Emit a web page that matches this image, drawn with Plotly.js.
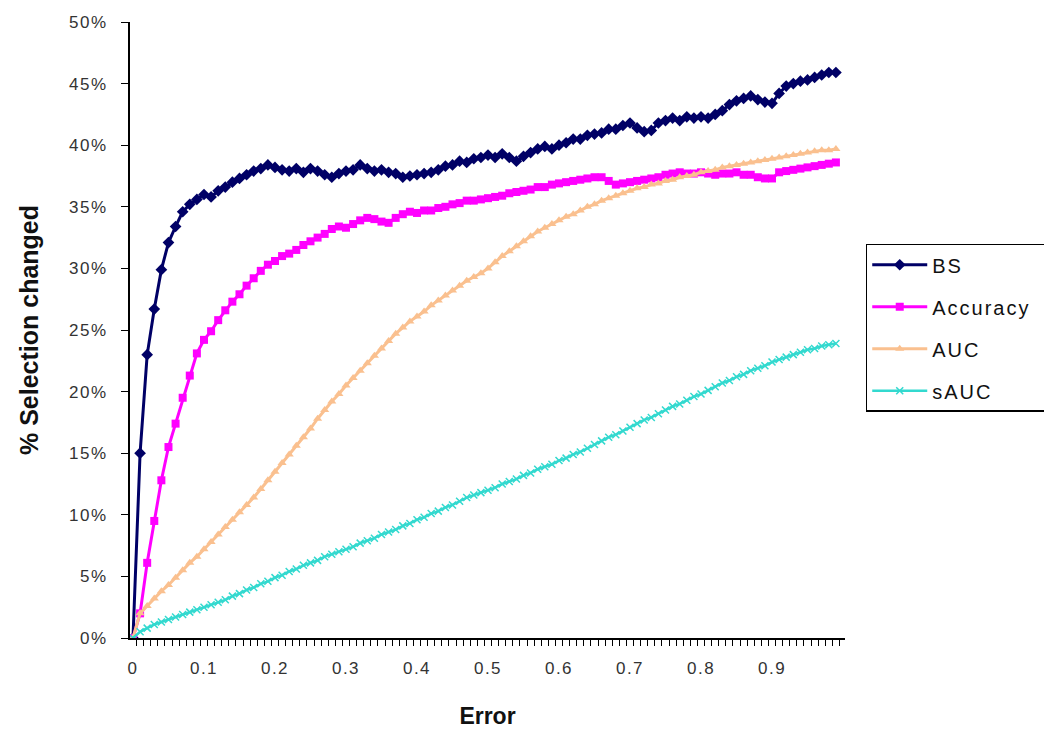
<!DOCTYPE html>
<html>
<head>
<meta charset="utf-8">
<script src="https://cdn.plot.ly/plotly-3.0.1.min.js"></script>
<style>
  html, body { margin: 0; padding: 0; background: #fff; }
  #chart { width: 1044px; height: 735px; }
  #chart .xtick text, #chart .ytick text { letter-spacing: 1.5px; }
  #chart .legendtext { letter-spacing: 2px; }
  #chart .legend rect.bg { width: 240px; }
  #chart clipPath[id^="legend"] rect { width: 240px; }
</style>
</head>
<body>
<div id="chart"></div>
<script>
// Error categories (x axis)
const errorLevels = [
  0.00, 0.01, 0.02, 0.03, 0.04, 0.05, 0.06, 0.07, 0.08, 0.09,
  0.10, 0.11, 0.12, 0.13, 0.14, 0.15, 0.16, 0.17, 0.18, 0.19,
  0.20, 0.21, 0.22, 0.23, 0.24, 0.25, 0.26, 0.27, 0.28, 0.29,
  0.30, 0.31, 0.32, 0.33, 0.34, 0.35, 0.36, 0.37, 0.38, 0.39,
  0.40, 0.41, 0.42, 0.43, 0.44, 0.45, 0.46, 0.47, 0.48, 0.49,
  0.50, 0.51, 0.52, 0.53, 0.54, 0.55, 0.56, 0.57, 0.58, 0.59,
  0.60, 0.61, 0.62, 0.63, 0.64, 0.65, 0.66, 0.67, 0.68, 0.69,
  0.70, 0.71, 0.72, 0.73, 0.74, 0.75, 0.76, 0.77, 0.78, 0.79,
  0.80, 0.81, 0.82, 0.83, 0.84, 0.85, 0.86, 0.87, 0.88, 0.89,
  0.90, 0.91, 0.92, 0.93, 0.94, 0.95, 0.96, 0.97, 0.98, 0.99
];

// % selection changed (in percent)
const bsValues = [
  0.0, 15.0, 23.0, 26.7, 29.9, 32.1, 33.4, 34.6, 35.2, 35.6,
  36.0, 35.8, 36.3, 36.6, 37.0, 37.3, 37.6, 37.9, 38.1, 38.4,
  38.2, 38.0, 37.9, 38.1, 37.8, 38.1, 37.9, 37.6, 37.4, 37.7,
  37.9, 38.0, 38.4, 38.1, 37.9, 38.0, 37.8, 37.7, 37.4, 37.5,
  37.6, 37.7, 37.8, 38.0, 38.3, 38.4, 38.7, 38.6, 38.9, 39.0,
  39.2, 39.0, 39.3, 39.0, 38.7, 39.1, 39.4, 39.7, 39.9, 39.7,
  40.0, 40.2, 40.5, 40.5, 40.8, 40.9, 41.0, 41.3, 41.3, 41.6,
  41.8, 41.4, 41.1, 41.2, 41.8, 42.0, 42.2, 42.0, 42.3, 42.2,
  42.3, 42.2, 42.5, 42.8, 43.3, 43.6, 43.8, 44.0, 43.7, 43.5,
  43.4, 44.2, 44.8, 45.0, 45.2, 45.3, 45.5, 45.7, 45.9, 45.9
];
const accuracyValues = [
  0.0, 2.0, 6.1, 9.5, 12.8, 15.5, 17.4, 19.5, 21.3, 23.1,
  24.2, 24.9, 25.8, 26.6, 27.3, 27.9, 28.6, 29.2, 29.8, 30.3,
  30.6, 31.0, 31.2, 31.5, 31.9, 32.2, 32.5, 32.8, 33.2, 33.4,
  33.3, 33.6, 33.9, 34.1, 34.0, 33.8, 33.7, 34.1, 34.4, 34.6,
  34.5, 34.7, 34.7, 34.9, 35.0, 35.2, 35.3, 35.5, 35.5, 35.6,
  35.7, 35.8, 35.9, 36.1, 36.2, 36.3, 36.4, 36.6, 36.6, 36.8,
  36.9, 37.0, 37.1, 37.2, 37.3, 37.4, 37.4, 37.1, 36.8, 36.9,
  37.0, 37.1, 37.2, 37.3, 37.4, 37.6, 37.7, 37.8, 37.7, 37.7,
  37.8, 37.7, 37.6, 37.7, 37.7, 37.8, 37.6, 37.6, 37.4, 37.3,
  37.3, 37.8, 37.9, 38.0, 38.1, 38.2, 38.3, 38.4, 38.5, 38.6
];
const aucValues = [
  0.0, 2.0, 2.6, 3.2, 3.8, 4.3, 4.9, 5.5, 6.1, 6.6,
  7.2, 7.8, 8.4, 9.0, 9.6, 10.2, 10.8, 11.4, 12.1, 12.8,
  13.5, 14.2, 14.9, 15.6, 16.3, 17.0, 17.8, 18.5, 19.2, 19.8,
  20.5, 21.1, 21.7, 22.3, 22.9, 23.5, 24.1, 24.7, 25.2, 25.7,
  26.1, 26.5, 27.0, 27.4, 27.8, 28.2, 28.6, 29.0, 29.3, 29.6,
  30.0, 30.5, 31.0, 31.4, 31.8, 32.2, 32.6, 33.0, 33.3, 33.6,
  33.9, 34.2, 34.4, 34.7, 35.0, 35.2, 35.5, 35.7, 35.9, 36.1,
  36.3, 36.5, 36.6, 36.8, 36.9, 37.1, 37.2, 37.4, 37.5, 37.6,
  37.8, 37.9, 38.0, 38.2, 38.3, 38.4, 38.5, 38.6, 38.7, 38.8,
  38.9, 39.0, 39.1, 39.2, 39.3, 39.4, 39.5, 39.6, 39.6, 39.7
];
const sAucValues = [
  0.0, 0.5, 0.8, 1.1, 1.3, 1.5, 1.7, 1.9, 2.1, 2.3,
  2.5, 2.7, 2.9, 3.1, 3.4, 3.6, 3.9, 4.1, 4.4, 4.6,
  4.9, 5.1, 5.4, 5.6, 5.9, 6.1, 6.3, 6.6, 6.8, 7.0,
  7.2, 7.4, 7.7, 7.9, 8.1, 8.4, 8.6, 8.8, 9.1, 9.3,
  9.6, 9.8, 10.1, 10.3, 10.6, 10.8, 11.1, 11.4, 11.6, 11.8,
  12.0, 12.2, 12.5, 12.7, 12.9, 13.2, 13.4, 13.7, 13.9, 14.1,
  14.4, 14.6, 14.9, 15.1, 15.4, 15.7, 16.0, 16.3, 16.5, 16.8,
  17.1, 17.4, 17.7, 17.9, 18.2, 18.5, 18.8, 19.0, 19.3, 19.6,
  19.8, 20.1, 20.4, 20.7, 20.9, 21.2, 21.4, 21.7, 21.9, 22.1,
  22.4, 22.6, 22.8, 23.0, 23.2, 23.4, 23.5, 23.7, 23.8, 23.9
];

const seriesNames = ['BS', 'Accuracy', 'AUC', 'sAUC'];
const xTickValues = [0, 0.1, 0.2, 0.3, 0.4, 0.5, 0.6, 0.7, 0.8, 0.9];
const xTickLabels = ['0', '0.1', '0.2', '0.3', '0.4', '0.5', '0.6', '0.7', '0.8', '0.9'];

const pct = arr => arr.map(v => v / 100);
const FONT = '"Liberation Sans", Arial, sans-serif';
const NARROW = '"Liberation Sans Narrow", "Liberation Sans", Arial, sans-serif';

const traces = [
  {
    name: seriesNames[0], legendgroup: 'g1', x: errorLevels, y: pct(bsValues),
    mode: 'lines+markers', type: 'scatter',
    line: { color: '#000066', width: 3 },
    marker: { symbol: 'diamond', size: 9, color: '#000066' }
  },
  {
    name: seriesNames[1], legendgroup: 'g2', x: errorLevels, y: pct(accuracyValues),
    mode: 'lines+markers', type: 'scatter',
    line: { color: '#FF00FF', width: 3 },
    marker: { symbol: 'square', size: 8, color: '#FF00FF' }
  },
  {
    name: seriesNames[2], legendgroup: 'g3', x: errorLevels, y: pct(aucValues),
    mode: 'lines+markers', type: 'scatter',
    line: { color: '#FAC08F', width: 3 },
    marker: { symbol: 'triangle-up', size: 8, color: '#FAC08F' }
  },
  {
    name: seriesNames[3], legendgroup: 'g4', x: errorLevels, y: pct(sAucValues),
    mode: 'lines+markers', type: 'scatter',
    line: { color: '#33D9CF', width: 2.5 },
    marker: { symbol: 'x-thin', size: 7, color: '#33D9CF', line: { color: '#33D9CF', width: 1.5 } }
  }
];

const layout = {
  width: 1044, height: 735,
  margin: { l: 130, r: 199, t: 22, b: 97 },
  paper_bgcolor: '#ffffff', plot_bgcolor: '#ffffff',
  font: { family: FONT, color: '#222', size: 17 },
  showlegend: true,
  legend: {
    x: 1.029, xanchor: 'left', y: 0.64, yanchor: 'top',
    bordercolor: '#000', borderwidth: 1.5, bgcolor: '#fff',
    font: { family: FONT, size: 20, color: '#111' },
    tracegroupgap: 13, itemwidth: 55
  },
  xaxis: {
    range: [-0.0042, 1.0028],
    tickvals: xTickValues, ticktext: xTickLabels,
    ticks: '', ticklabelstandoff: 14,
    showgrid: false, zeroline: false,
    showline: true, linecolor: '#000', linewidth: 2,
    minor: { tick0: -0.005, dtick: 0.01, ticks: 'outside', ticklen: 6, tickcolor: '#000', tickwidth: 1, showgrid: false },
    title: { text: '<b>Error</b>', font: { family: NARROW, size: 23, color: '#111' }, standoff: 30 },
    tickfont: { family: FONT, size: 17, color: '#333' }
  },
  yaxis: {
    range: [0, 0.5], dtick: 0.05, tick0: 0, tickformat: '.0%',
    ticks: 'outside', ticklen: 7, tickcolor: '#000', tickwidth: 1,
    ticklabelstandoff: 10,
    showgrid: false, zeroline: false,
    showline: true, linecolor: '#000', linewidth: 2,
    title: { text: '<b>% Selection changed</b>', font: { family: NARROW, size: 25, color: '#111' }, standoff: 28 },
    tickfont: { family: FONT, size: 17, color: '#333' }
  }
};

Plotly.newPlot('chart', traces, layout, { displayModeBar: false, staticPlot: true });
</script>
</body>
</html>
